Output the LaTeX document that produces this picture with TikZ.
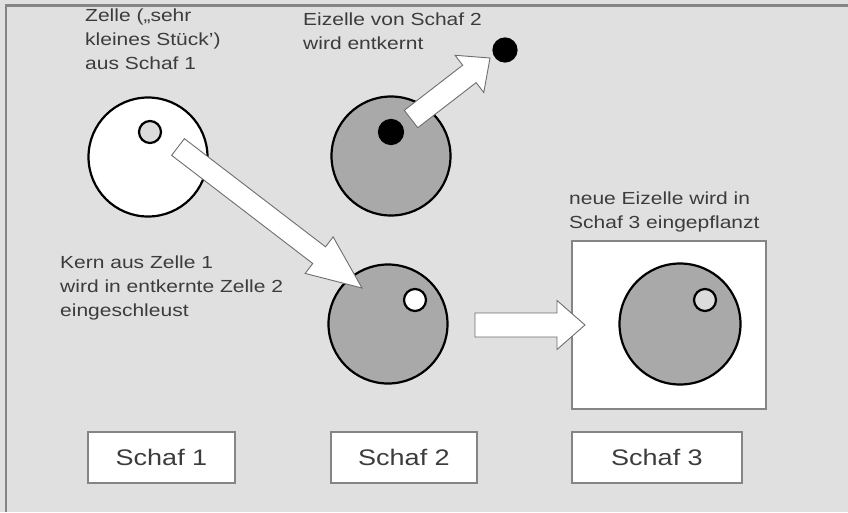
\documentclass[tikz,border=0pt]{standalone}
\usepackage{fontspec}
\setmainfont{Liberation Sans}[FakeStretch=1.2]
\usetikzlibrary{calc}

\definecolor{bggray}{HTML}{E0E0E0}
\definecolor{framegray}{HTML}{858585}
\definecolor{cellgray}{HTML}{A9A9A9}
\definecolor{kerngray}{HTML}{DCDCDC}
\definecolor{textgray}{HTML}{3C3C3C}
\definecolor{arrowgray}{HTML}{6E6E6E}

\newcommand{\notefont}{\fontsize{17.5}{24}\selectfont}
\newcommand{\labelfont}{\fontsize{22.5}{27}\selectfont}

% block arrow: tail, tip, half shaft, half head, head length
\newcommand{\blockarrow}[5]{%
  \path ($(#2)!#5!(#1)$) coordinate (hb);
  \draw [arrowbody] ($(#1)!#3!90:(#2)$) -- ($(hb)!#3!90:(#2)$) -- ($(hb)!#4!90:(#2)$)
    -- (#2) -- ($(hb)!#4!-90:(#2)$) -- ($(hb)!#3!-90:(#2)$) -- ($(#1)!#3!-90:(#2)$) -- cycle;
}

\begin{document}
\begin{tikzpicture}[x=1pt,y=-1pt,
    cell/.style={circle,draw=black,line width=2.2pt,minimum size=119pt},
    kern/.style={circle,draw=black,line width=2.2pt,minimum size=22pt},
    sheepbox/.style={draw=framegray,line width=1.6pt,fill=white},
    note/.style={anchor=north west,align=left,text=textgray,font=\notefont},
    arrowbody/.style={draw=arrowgray,line width=0.9pt,fill=white,line join=miter}]
    \tikzstyle{every node}+=[inner sep=0pt]
    \useasboundingbox (0,0) rectangle (848,512);
    \fill [bggray] (0,0) rectangle (848,512);
    \draw [framegray,line width=2.4pt] (6,512) -- (6,5.5) -- (848,5.5);
    % texts
    \node [note] (t1) at (85,9) {Zelle („sehr\\kleines Stück')\\aus Schaf 1};
    \node [note] (t2) at (303,13) {Eizelle von Schaf 2\\wird entkernt};
    \node [note] (t3) at (60,256) {Kern aus Zelle 1\\wird in entkernte Zelle 2\\eingeschleust};
    \node [note] (t4) at (569,192) {neue Eizelle wird in\\Schaf 3 eingepflanzt};
    % sheep 3
    \node [sheepbox,minimum width=194pt,minimum height=168pt] (stall) at (669,325) {};
    % cells
    \node [cell,fill=white] (c1) at (148,157) {};
    \node [kern,fill=kerngray] (k1) at (150,132) {};
    \node [cell,fill=cellgray] (c2) at (391,156) {};
    \node [kern,fill=black,minimum size=24pt] (k2) at (391,132) {};
    \node [kern,fill=black,minimum size=23pt] (dot) at (505,50) {};
    \node [cell,fill=cellgray] (c3) at (388,324) {};
    \node [kern,fill=white] (k3) at (415,300) {};
    \node [cell,fill=cellgray,minimum size=121pt] (c4) at (680,324) {};
    \node [kern,fill=kerngray] (k4) at (705,300) {};
    % arrows
    \coordinate (a1s) at (178,147);
    \coordinate (a1e) at (362,288);
    \coordinate (a2s) at (411,119);
    \coordinate (a2e) at (490,58);
    \coordinate (a3s) at (475,325);
    \coordinate (a3e) at (585,325);
    \blockarrow{a1s}{a1e}{10.5pt}{23pt}{54pt}
    \blockarrow{a2s}{a2e}{11pt}{23.5pt}{26pt}
    \blockarrow{a3s}{a3e}{12pt}{24.5pt}{28pt}
    % labels
    \node [sheepbox,minimum width=147pt,minimum height=51pt,font=\labelfont,text=textgray] (s1) at (161.5,457.5) {Schaf 1};
    \node [sheepbox,minimum width=146pt,minimum height=51pt,font=\labelfont,text=textgray] (s2) at (404,457.5) {Schaf 2};
    \node [sheepbox,minimum width=170pt,minimum height=51pt,font=\labelfont,text=textgray] (s3) at (657,457.5) {Schaf 3};
\end{tikzpicture}
\end{document}
